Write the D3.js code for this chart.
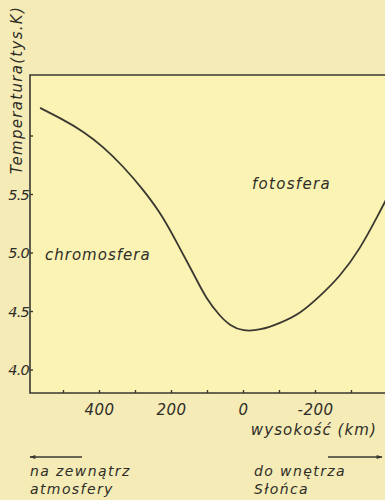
<!DOCTYPE html>
<html lang="pl">
<head>
<meta charset="UTF-8">
<title>Temperatura w atmosferze Słońca</title>
<style>
  body { margin: 0; background: #f4ebb6; }
  svg { display: block; }
  text { font-family: "DejaVu Sans", sans-serif; font-style: italic; fill: #2f2d27; }
</style>
</head>
<body>
<svg width="385" height="500"></svg>
<script src="https://d3js.org/d3.v7.min.js"></script>
<script>
// height above the surface (km) and temperature (thousand K)
const heights = [565, 501, 445, 390, 334, 278, 223, 177, 140, 102, 65, 38, 1, -46, -101, -157, -212, -268, -323, -375, -395];
const temps   = [6.24, 6.14, 6.04, 5.91, 5.74, 5.54, 5.31, 5.04, 4.83, 4.60, 4.46, 4.38, 4.33, 4.34, 4.40, 4.48, 4.63, 4.80, 5.03, 5.33, 5.45];
const xTicks = [500, 400, 300, 200, 100, 0, -100, -200, -300];
const xTickLabels = {400: '400', 200: '200', 0: '0', '-200': '-200'};
const yTicks = [4.0, 4.5, 5.0, 5.5, 6.0];
const yTickLabels = {4: '4.0', 4.5: '4.5', 5: '5.0', 5.5: '5.5'};

const svg = d3.select('svg');
const box = { left: 30, right: 385, top: 75, bottom: 393 };

const x = d3.scaleLinear().domain([0, -200]).range([243.5, 315.5]);
const y = d3.scaleLinear().domain([4.0, 6.0]).range([370, 136]);

svg.append('rect').attr('x', box.left).attr('y', box.top)
  .attr('width', box.right - box.left).attr('height', box.bottom - box.top).attr('fill', '#faf3b4');

const ink = '#3a3830';

// frame: top, left, bottom
svg.append('path')
  .attr('d', `M${box.right},${box.top}H${box.left}V${box.bottom}H${box.right}`)
  .attr('fill', 'none').attr('stroke', ink).attr('stroke-width', 1.6);

// ticks pointing inward
svg.append('g').selectAll('line').data(xTicks).join('line')
  .attr('x1', d => x(d)).attr('x2', d => x(d))
  .attr('y1', box.bottom).attr('y2', box.bottom - 3)
  .attr('stroke', ink).attr('stroke-width', 1.4);
svg.append('g').selectAll('line').data(yTicks).join('line')
  .attr('x1', box.left).attr('x2', box.left + 3)
  .attr('y1', d => y(d)).attr('y2', d => y(d))
  .attr('stroke', ink).attr('stroke-width', 1.4);

svg.append('g').selectAll('text').data(xTicks.filter(d => xTickLabels[d] !== undefined)).join('text')
  .attr('x', d => x(d)).attr('y', 415)
  .attr('text-anchor', 'middle').attr('font-size', 15).attr('letter-spacing', 0.5)
  .text(d => xTickLabels[d]);

svg.append('g').selectAll('text').data(yTicks.filter(d => yTickLabels[d] !== undefined)).join('text')
  .attr('x', 29).attr('y', d => y(d) + 5)
  .attr('text-anchor', 'end').attr('font-size', 14.5).attr('letter-spacing', -0.8)
  .text(d => yTickLabels[d]);

// axis titles
svg.append('text')
  .attr('transform', 'translate(22,90) rotate(-90)')
  .attr('text-anchor', 'middle').attr('font-size', 15).attr('letter-spacing', 1.3)
  .text('Temperatura(tys.K)');

svg.append('text').attr('x', 377).attr('y', 435)
  .attr('text-anchor', 'end').attr('font-size', 15).attr('letter-spacing', 1.1)
  .text('wysokość (km)');

// curve
svg.append('clipPath').attr('id', 'plot')
  .append('rect').attr('x', box.left).attr('y', box.top)
  .attr('width', box.right - box.left).attr('height', box.bottom - box.top);

const line = d3.line().x(d => x(d[0])).y(d => y(d[1])).curve(d3.curveBasis);
svg.append('path')
  .datum(heights.map((h, i) => [h, temps[i]]))
  .attr('clip-path', 'url(#plot)')
  .attr('d', line)
  .attr('fill', 'none').attr('stroke', ink).attr('stroke-width', 1.8);

// region labels
svg.append('text').attr('x', 45).attr('y', 260).attr('font-size', 15).attr('letter-spacing', 1).text('chromosfera');
svg.append('text').attr('x', 252).attr('y', 189).attr('font-size', 15).attr('letter-spacing', 1.3).text('fotosfera');

// arrows and captions
svg.append('defs').append('marker')
  .attr('id', 'head').attr('viewBox', '0 0 10 10')
  .attr('refX', 9).attr('refY', 5)
  .attr('markerWidth', 9).attr('markerHeight', 6).attr('markerUnits', 'userSpaceOnUse')
  .attr('orient', 'auto')
  .append('path').attr('d', 'M0,1.5L10,5L0,8.5Z').attr('fill', ink);

svg.append('line').attr('x1', 82).attr('x2', 30).attr('y1', 457).attr('y2', 457)
  .attr('stroke', ink).attr('stroke-width', 1.6).attr('marker-end', 'url(#head)');
svg.append('line').attr('x1', 328).attr('x2', 382).attr('y1', 457).attr('y2', 457)
  .attr('stroke', ink).attr('stroke-width', 1.6).attr('marker-end', 'url(#head)');

const caption = { size: 14, spacing: 1.4 };
[['na zewnątrz', 30, 476], ['atmosfery', 30, 494], ['do wnętrza', 254, 476], ['Słońca', 254, 494]]
  .forEach(([t, tx, ty]) => svg.append('text').attr('x', tx).attr('y', ty)
    .attr('font-size', caption.size).attr('letter-spacing', caption.spacing).text(t));
</script>
</body>
</html>
